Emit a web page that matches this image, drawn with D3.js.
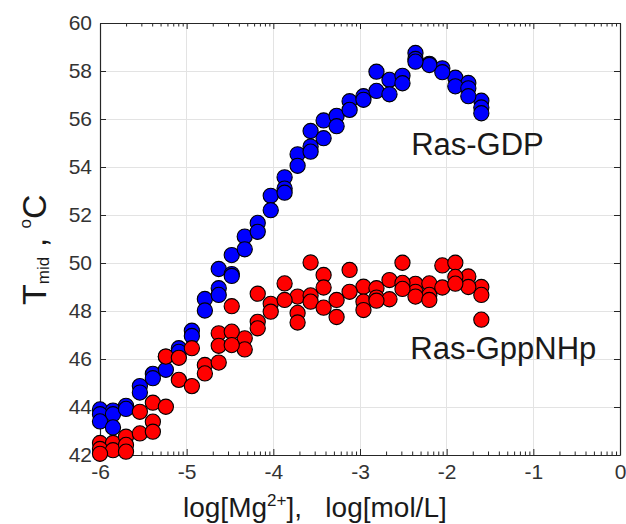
<!DOCTYPE html>
<html>
<head>
<meta charset="utf-8">
<script src="https://cdn.jsdelivr.net/npm/d3@7"></script>
<style>
  body { margin: 0; background: #fff; }
  svg { display: block; font-family: "Liberation Sans", Arial, Helvetica, sans-serif; }
</style>
</head>
<body>
<svg id="chart" width="626" height="524"></svg>
<script>
// log[Mg2+] for each titration point
const logMg = [-6.00, -5.85, -5.70, -5.54, -5.39, -5.24, -5.09, -4.94, -4.79, -4.63,
               -4.48, -4.33, -4.18, -4.03, -3.87, -3.72, -3.57, -3.42, -3.27, -3.12,
               -2.96, -2.81, -2.66, -2.51, -2.36, -2.20, -2.05, -1.90, -1.75, -1.60];

// Ras-GDP replicates (null = no point)
const gdpRun1 = [43.9, 43.85, 44.05, 44.87, 45.38, 46.1, 46.45, 47.18, 48.5, 49.75,
                 50.33, 51.1, 51.67, 52.8, 53.57, 54.53, 55.5, 55.94, 56.13, 56.74,
                 56.95, 57.97, 57.63, 57.8, 58.75, 58.3, 58.11, 57.72, 57.5, 56.76];
const gdpRun2 = [43.7, 43.7, 43.92, 44.6, 45.2, 45.55, 46.3, 46.96, 48.02, 48.95,
                 49.54, 50.57, 51.3, 52.2, 53.1, 54.05, 54.85, 55.2, 55.7, 56.38,
                 56.8, 57.17, 57.03, 57.49, 58.5, 58.25, 57.95, 57.36, 57.28, 56.48];
const gdpRun3 = [43.4, 43.15, null, null, null, null, null, null, null, 48.67,
                 49.46, null, null, null, 52.93, null, 54.64, null, null, null,
                 null, null, null, null, 58.39, null, null, null, 56.95, 56.24];

// Ras-GppNHp replicates
const gppRun1 = [42.5, 42.5, 42.76, 43.8, 44.18, 46.1, 46.05, 46.45, 45.75, 47.07,
                 48.2, 46.86, 48.72, 48.3, 49.15, 48.6, 50.02, 49.5, 48.46, 49.71,
                 49.01, 48.95, 49.29, 50.01, 49.13, 49.15, 49.9, 50.01, 49.44, 49.0];
const gppRun2 = [42.25, 42.2, 42.42, 42.9, 43.39, 44.01, 45.13, 44.87, 45.4, 46.55,
                 47.14, 46.4, 47.55, 47.97, 48.46, 47.92, 48.65, 48.98, 47.75, 48.8,
                 48.39, 48.56, 48.49, 49.17, 48.8, 48.67, 48.98, 49.42, 49.0, 48.67];
const gppRun3 = [42.05, null, 42.14, null, 42.97, null, null, null, null, 45.85,
                 46.58, null, 47.28, null, null, 47.52, 48.39, 48.14, null, null,
                 48.04, 48.43, null, 48.92, 48.6, 48.46, null, 49.14, null, 47.64];

const xTicks = [-6, -5, -4, -3, -2, -1, 0];
const yTicks = [42, 44, 46, 48, 50, 52, 54, 56, 58, 60];

const series = [
  { name: 'Ras-GDP', color: '#0000ff', runs: [gdpRun1, gdpRun2, gdpRun3], labelAt: [-2.41, 54.5] },
  { name: 'Ras-GppNHp', color: '#ff0000', runs: [gppRun1, gppRun2, gppRun3], labelAt: [-2.42, 46.0] },
];

const svg = d3.select('#chart');
const x = d3.scaleLinear().domain([-6, 0]).range([100, 620]);
const y = d3.scaleLinear().domain([42, 60]).range([455, 23]);
const axisColor = '#262626';

// minor ticks on x follow a log pattern inside each unit
const minorX = [];
xTicks.slice(0, -1).forEach(n => {
  for (let k = 2; k <= 9; k++) minorX.push(n + Math.log10(k));
});

// grid
const grid = svg.append('g').attr('stroke', '#e3e3e3').attr('stroke-width', 1).attr('shape-rendering', 'crispEdges');
grid.selectAll('.gx').data(xTicks.slice(1, -1)).join('line')
  .attr('x1', d => x(d)).attr('x2', d => x(d)).attr('y1', y(42)).attr('y2', y(60));
grid.selectAll('.gy').data(yTicks.slice(1, -1)).join('line')
  .attr('x1', x(-6)).attr('x2', x(0)).attr('y1', d => y(d)).attr('y2', d => y(d));

function styleAxis(g) {
  g.select('.domain').attr('stroke', axisColor).attr('stroke-width', 1.2);
  g.selectAll('.tick line').attr('stroke', axisColor).attr('stroke-width', 1);
  g.selectAll('.tick text').attr('fill', '#333').attr('font-size', 21)
    .attr('font-family', '"Liberation Sans", Arial, Helvetica, sans-serif');
}

const fmt = d => String(d);

svg.append('g').attr('transform', `translate(0,${y(42)})`)
  .call(d3.axisBottom(x).tickValues(xTicks).tickSizeInner(-6).tickSizeOuter(0).tickPadding(9).tickFormat(fmt))
  .call(styleAxis)
  .selectAll('.tick text').attr('dy', '0.71em').attr('y', 9);
svg.append('g').attr('transform', `translate(0,${y(42)})`)
  .call(d3.axisBottom(x).tickValues(minorX).tickSizeInner(-3.5).tickSizeOuter(0).tickFormat(''))
  .call(styleAxis).select('.domain').remove();

svg.append('g').attr('transform', `translate(0,${y(60)})`)
  .call(d3.axisTop(x).tickValues(xTicks).tickSizeInner(-6).tickSizeOuter(0).tickFormat(''))
  .call(styleAxis);
svg.append('g').attr('transform', `translate(0,${y(60)})`)
  .call(d3.axisTop(x).tickValues(minorX).tickSizeInner(-3.5).tickSizeOuter(0).tickFormat(''))
  .call(styleAxis).select('.domain').remove();

svg.append('g').attr('transform', `translate(${x(-6)},0)`)
  .call(d3.axisLeft(y).tickValues(yTicks).tickSizeInner(-6).tickSizeOuter(0).tickPadding(8).tickFormat(fmt))
  .call(styleAxis);
svg.append('g').attr('transform', `translate(${x(0)},0)`)
  .call(d3.axisRight(y).tickValues(yTicks).tickSizeInner(-6).tickSizeOuter(0).tickFormat(''))
  .call(styleAxis);

// points, blue first so red sits on top
series.forEach(s => {
  const pts = [];
  s.runs.forEach(run => run.forEach((v, i) => { if (v !== null) pts.push([logMg[i], v]); }));
  svg.append('g').selectAll('circle').data(pts).join('circle')
    .attr('cx', d => x(d[0])).attr('cy', d => y(d[1])).attr('r', 7.6)
    .attr('fill', s.color).attr('stroke', '#000').attr('stroke-width', 1.1);

  svg.append('text')
    .attr('x', x(s.labelAt[0])).attr('y', y(s.labelAt[1]))
    .attr('font-size', 31).attr('fill', '#1a1a1a')
    .text(s.name);
});

// axis labels
const xl = svg.append('text').attr('x', 183).attr('y', 517).attr('font-size', 28)
  .attr('fill', '#1a1a1a').style('white-space', 'pre');
xl.append('tspan').text('log[Mg');
xl.append('tspan').attr('font-size', 17).attr('dy', -11).text('2+');
xl.append('tspan').attr('dy', 11).text('],   log[mol/L]');

const yl = svg.append('text').attr('transform', 'translate(46,305) rotate(-90)')
  .attr('font-size', 34).attr('fill', '#1a1a1a').style('white-space', 'pre');
yl.append('tspan').text('T');
yl.append('tspan').attr('font-size', 17).attr('dy', 3).text('mid');
yl.append('tspan').attr('dy', -3).text(' , ');
yl.append('tspan').attr('font-size', 17).attr('dy', -15).text('o');
yl.append('tspan').attr('dy', 15).text('C');
</script>
</body>
</html>
